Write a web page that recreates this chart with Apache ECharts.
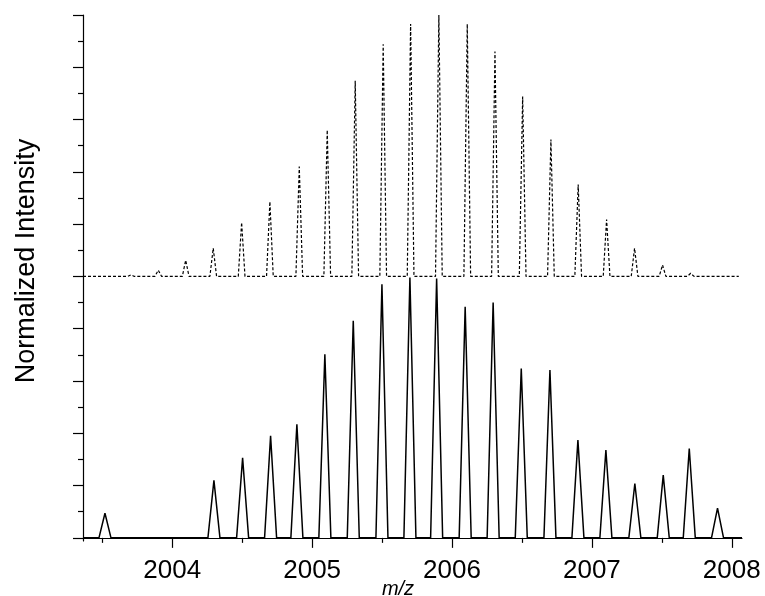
<!DOCTYPE html>
<html>
<head>
<meta charset="utf-8">
<script src="https://cdn.jsdelivr.net/npm/echarts@6/dist/echarts.min.js"></script>
<style>html,body{margin:0;padding:0;background:#fff}#c{width:765px;height:596px}</style>
</head>
<body>
<div id="c"></div>
<script>
// ---- data ----
const xMajorTicks = [2004, 2005, 2006, 2007, 2008];
const xMinorTicks = [2003.5, 2004.5, 2005.5, 2006.5, 2007.5];
const yMajorTicks = [0, 1, 2, 3, 4, 5, 6, 7, 8, 9, 10];
const yMinorTicks = [0.5, 1.5, 2.5, 3.5, 4.5, 5.5, 6.5, 7.5, 8.5, 9.5];

// theoretical isotope pattern (top, dotted), offset baseline
const theoBaseline = 5;
const theoMz = [2003.705, 2003.900, 2004.096, 2004.293, 2004.496, 2004.698, 2004.908, 2005.108,
  2005.308, 2005.508, 2005.704, 2005.906, 2006.109, 2006.307, 2006.505, 2006.707, 2006.902,
  2007.105, 2007.305, 2007.505, 2007.706];
const theoHeight = [0.03, 0.12, 0.31, 0.54, 1.03, 1.43, 2.10, 2.80, 3.74, 4.44, 4.83, 5.00,
  4.83, 4.30, 3.44, 2.62, 1.76, 1.09, 0.54, 0.22, 0.06];

// experimental spectrum (bottom, solid)
const expMz = [2003.519, 2004.298, 2004.503, 2004.703, 2004.891, 2005.091, 2005.294, 2005.499,
  2005.699, 2005.890, 2006.094, 2006.294, 2006.495, 2006.700, 2006.900, 2007.100, 2007.307,
  2007.510, 2007.696, 2007.898];
const expHeight = [0.47, 1.10, 1.53, 1.95, 2.17, 3.51, 4.15, 4.85, 4.98, 4.96, 4.42, 4.50,
  3.24, 3.21, 1.87, 1.68, 1.04, 1.20, 1.71, 0.57];

const xMin = 2003.362, xMax = 2008.073;
const theoEnd = 2008.05;
const theoHalfWidth = 0.024, expHalfWidth = 0.043;

function profile(mz, h, hw, base, x0, x1) {
  const pts = [[x0, base]];
  for (let i = 0; i < mz.length; i++) {
    pts.push([mz[i] - hw, base]);
    pts.push([mz[i], base + h[i]]);
    pts.push([mz[i] + hw, base]);
  }
  pts.push([x1, base]);
  return pts;
}

const FONT = 'Liberation Sans, Arial, Helvetica, sans-serif';
const chart = echarts.init(document.getElementById('c'), null, {renderer: 'canvas'});
chart.setOption({
  animation: false,
  backgroundColor: '#fff',
  grid: {left: 83, top: 15, width: 659, height: 526, containLabel: false},
  xAxis: [
    {
      type: 'value', min: xMin, max: xMax, position: 'bottom',
      axisLine: {show: true, lineStyle: {color: '#000', width: 1.2}},
      axisTick: {show: true, customValues: xMajorTicks, length: 10, inside: false, lineStyle: {color: '#000', width: 1.2}},
      axisLabel: {show: true, customValues: xMajorTicks, formatter: v => String(v), fontSize: 26, color: '#000', fontFamily: FONT, margin: 17},
      splitLine: {show: false}
    },
    {
      type: 'value', min: xMin, max: xMax, position: 'bottom',
      axisLine: {show: false},
      axisTick: {show: true, customValues: xMinorTicks, length: 5, inside: false, lineStyle: {color: '#000', width: 1.2}},
      axisLabel: {show: false},
      splitLine: {show: false}
    }
  ],
  yAxis: [
    {
      type: 'value', min: -0.06, max: 10, position: 'left',
      axisLine: {show: true, lineStyle: {color: '#000', width: 1.2}},
      axisTick: {show: true, customValues: yMajorTicks, length: 10, inside: false, lineStyle: {color: '#000', width: 1.2}},
      axisLabel: {show: false},
      splitLine: {show: false}
    },
    {
      type: 'value', min: -0.06, max: 10, position: 'left',
      axisLine: {show: false},
      axisTick: {show: true, customValues: yMinorTicks, length: 5, inside: false, lineStyle: {color: '#000', width: 1.2}},
      axisLabel: {show: false},
      splitLine: {show: false}
    }
  ],
  graphic: [
    {type: 'text', x: 27, y: 261, rotation: Math.PI / 2,
     style: {text: 'Normalized Intensity', font: '27px ' + FONT, fill: '#000', align: 'center', verticalAlign: 'middle'}},
    {type: 'text', x: 398, y: 589,
     style: {text: 'm/z', font: 'italic 20px ' + FONT, fill: '#000', align: 'center', verticalAlign: 'middle'}}
  ],
  series: [
    {
      type: 'line', xAxisIndex: 0, yAxisIndex: 0, showSymbol: false, silent: true,
      data: profile(expMz, expHeight, expHalfWidth, 0, xMin, xMax),
      lineStyle: {color: '#000', width: 1.5},
      clip: true
    },
    {
      type: 'line', xAxisIndex: 0, yAxisIndex: 0, showSymbol: false, silent: true,
      data: profile(theoMz, theoHeight, theoHalfWidth, theoBaseline, xMin, theoEnd),
      lineStyle: {color: '#000', width: 1.2, type: [3, 2]},
      clip: true
    }
  ]
});
</script>
</body>
</html>
